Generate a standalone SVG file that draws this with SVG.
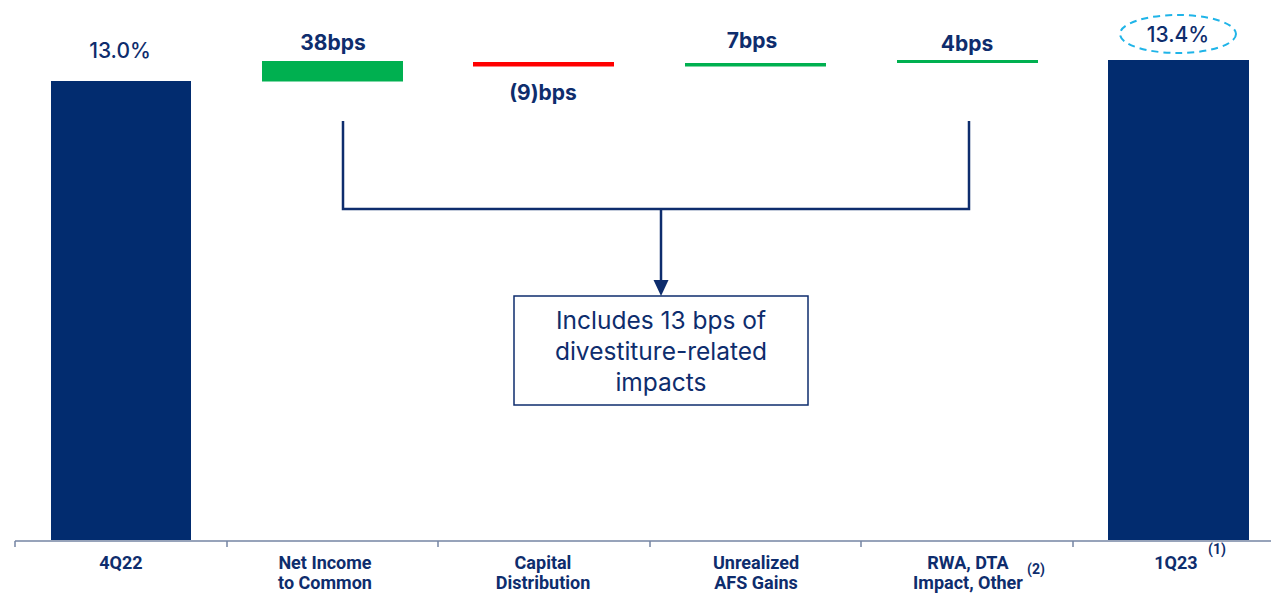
<svg xmlns="http://www.w3.org/2000/svg" width="1271" height="594" viewBox="0 0 1271 594">
<style>
.val{font-family:Inter,"Open Sans",sans-serif;font-size:21px;fill:#0e2d6d;text-anchor:middle}
.b{font-weight:700}
.m{font-weight:500}
.cat{font-family:Roboto,"Liberation Sans",sans-serif;font-size:18px;font-weight:700;fill:#0e2d6d;text-anchor:middle}
.sup{font-family:Roboto,"Liberation Sans",sans-serif;font-size:14px;font-weight:700;fill:#0e2d6d;text-anchor:middle}
.box{font-family:Inter,"Open Sans",sans-serif;font-size:24.5px;fill:#0e2d6d;text-anchor:middle}
.bar{fill:#022c6f}
.ax{stroke:#7585a3;stroke-width:1.5;fill:none}
.con{stroke:#0e2d6d;stroke-width:2.5;fill:none}
</style>
<g id="axis">
<line class="ax" x1="15" y1="541" x2="1271" y2="541"/>
<line class="ax" x1="15" y1="541" x2="15" y2="547"/>
<line class="ax" x1="227" y1="541" x2="227" y2="547"/>
<line class="ax" x1="438" y1="541" x2="438" y2="547"/>
<line class="ax" x1="650" y1="541" x2="650" y2="547"/>
<line class="ax" x1="861" y1="541" x2="861" y2="547"/>
<line class="ax" x1="1073" y1="541" x2="1073" y2="547"/>
</g>
<g id="n4Q22">
<rect class="bar" x="51" y="81" width="140" height="459"/>
<text class="val m" x="120" y="58">13.0%</text>
<text class="cat" x="121" y="569">4Q22</text>
</g>
<g id="netIncome">
<rect x="262" y="61" width="141" height="20.5" fill="#00b050"/>
<text class="val b" x="333" y="50">38bps</text>
<text class="cat" x="325" y="569">Net Income</text>
<text class="cat" x="325" y="589">to Common</text>
</g>
<g id="capital">
<rect x="473" y="62" width="141" height="4.5" fill="#ff0000"/>
<text class="val b" x="543" y="100">(9)bps</text>
<text class="cat" x="543" y="569">Capital</text>
<text class="cat" x="543" y="589">Distribution</text>
</g>
<g id="afs">
<rect x="685" y="63" width="141" height="3.5" fill="#00b050"/>
<text class="val b" x="752" y="48">7bps</text>
<text class="cat" x="756" y="569">Unrealized</text>
<text class="cat" x="756" y="589">AFS Gains</text>
</g>
<g id="rwa">
<rect x="897" y="60" width="141" height="3" fill="#00b050"/>
<text class="val b" x="967" y="51">4bps</text>
<text class="cat" x="968" y="569">RWA, DTA</text>
<text class="cat" x="968" y="589">Impact, Other</text>
<text class="sup" x="1036" y="574">(2)</text>
</g>
<g id="n1Q23">
<rect class="bar" x="1108" y="60" width="141" height="480"/>
<ellipse cx="1178" cy="34" rx="58" ry="19" fill="none" stroke="#1fb4e8" stroke-width="2" stroke-dasharray="7,5"/>
<text class="val m" x="1178" y="42">13.4%</text>
<text class="cat" x="1176" y="569">1Q23</text>
<text class="sup" x="1217" y="554">(1)</text>
</g>
<g id="note">
<rect x="514" y="296" width="294" height="109" fill="#fff" stroke="#0e2d6d" stroke-width="1.5"/>
<text class="box" x="661" y="329">Includes 13 bps of</text>
<text class="box" x="661" y="360">divestiture-related</text>
<text class="box" x="661" y="391">impacts</text>
</g>
<g id="connectors">
<path class="con" d="M343,121 V209 H969 V121"/>
<line class="con" x1="661" y1="209" x2="661" y2="282"/>
<path d="M653.5,280 L668.5,280 L661,296 Z" fill="#0e2d6d"/>
</g>
</svg>
